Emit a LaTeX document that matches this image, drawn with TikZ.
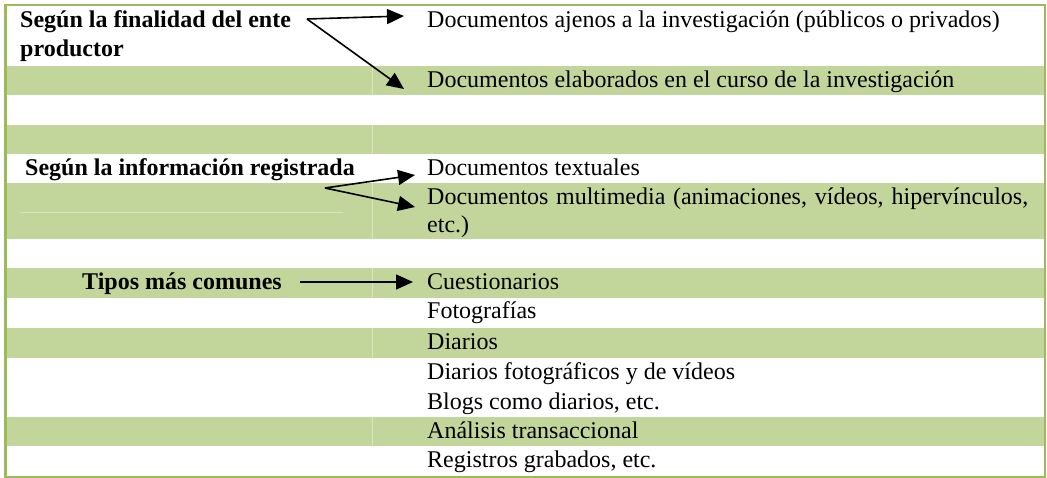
\documentclass[tikz,border=0pt]{standalone}
\usepackage{fontspec}
\setmainfont{Liberation Serif}
\usetikzlibrary{arrows.meta}
\definecolor{bandgreen}{HTML}{C2D69B}
\definecolor{bordgreen}{HTML}{9BBB59}
\tikzset{
  txt/.style={anchor=base west, inner sep=0pt, font=\fontsize{24}{29.5}\selectfont},
  lab/.style={anchor=base west, inner sep=0pt, font=\fontsize{24}{29.5}\selectfont\bfseries},
  arr/.style={-{Triangle[length=17pt,width=15pt]}, line width=1.6pt, black},
  band/.style={fill=bandgreen},
  cellline/.style={draw=white!40!bandgreen, line width=0.6pt},
  bord/.style={draw=bordgreen}
}
\begin{document}
\begin{tikzpicture}[x=1pt,y=-1pt]
\useasboundingbox (0,0) rectangle (1047,478);
\fill[white] (0,0) rectangle (1047,478);
% green bands
\fill[band] (7,66) rectangle (1044,95);
\fill[band] (7,125) rectangle (1044,154);
\fill[band] (7,183) rectangle (1044,239);
\fill[band] (7,268) rectangle (1044,298);
\fill[band] (7,328) rectangle (1044,358);
\fill[band] (7,417) rectangle (1044,446);
% faint cell borders
\foreach \a/\b in {66/95,125/154,183/239,268/298,328/358,417/446}
  \draw[cellline] (372,\a) -- (372,\b);
\draw[cellline] (20,212) -- (343,212);
% outer border
\draw[bord, line width=1.6pt] (1045,5) -- (1045,477) -- (5,477);
\draw[bord, line width=2.6pt] (4,5) -- (1046,5);
\draw[bord, line width=3pt] (5.5,4) -- (5.5,478);
% left labels
\node[lab] (l1a) at (20,28) {Según la finalidad del ente};
\node[lab] (l1b) at (20,57) {productor};
\node[lab] (l2) at (25,176) {Según la información registrada};
\node[lab] (l3) at (82,290) {Tipos más comunes};
% right texts
\node[txt] (r1) at (427,28) {Documentos ajenos a la investigación (públicos o privados)};
\node[txt] (r2) at (427,88) {Documentos elaborados en el curso de la investigación};
\node[txt] (r3) at (427,176) {Documentos textuales};
\node[txt] (r4) at (427,205) {\makebox[601pt][s]{Documentos multimedia (animaciones, vídeos, hipervínculos,}};
\node[txt] (r4b) at (427,233) {etc.)};
\node[txt] (r5) at (427,290) {Cuestionarios};
\node[txt] (r6) at (427,319) {Fotografías};
\node[txt] (r7) at (427,349) {Diarios};
\node[txt] (r8) at (427,379) {Diarios fotográficos y de vídeos};
\node[txt] (r9) at (427,409) {Blogs como diarios, etc.};
\node[txt] (r10) at (427,438) {Análisis transaccional};
\node[txt] (r11) at (427,467) {Registros grabados, etc.};
% arrow coordinates
\coordinate (s1) at (307,19);
\coordinate (t1a) at (404,16);
\coordinate (t1b) at (404,89);
\coordinate (s2) at (325,188);
\coordinate (t2a) at (415,175);
\coordinate (t2b) at (415,207);
\coordinate (s3) at (300,282);
\coordinate (t3) at (413,282);
\draw[arr] (s1) -- (t1a);
\draw[arr] (s1) -- (t1b);
\draw[arr] (s2) -- (t2a);
\draw[arr] (s2) -- (t2b);
\draw[arr] (s3) -- (t3);
\end{tikzpicture}
\end{document}
